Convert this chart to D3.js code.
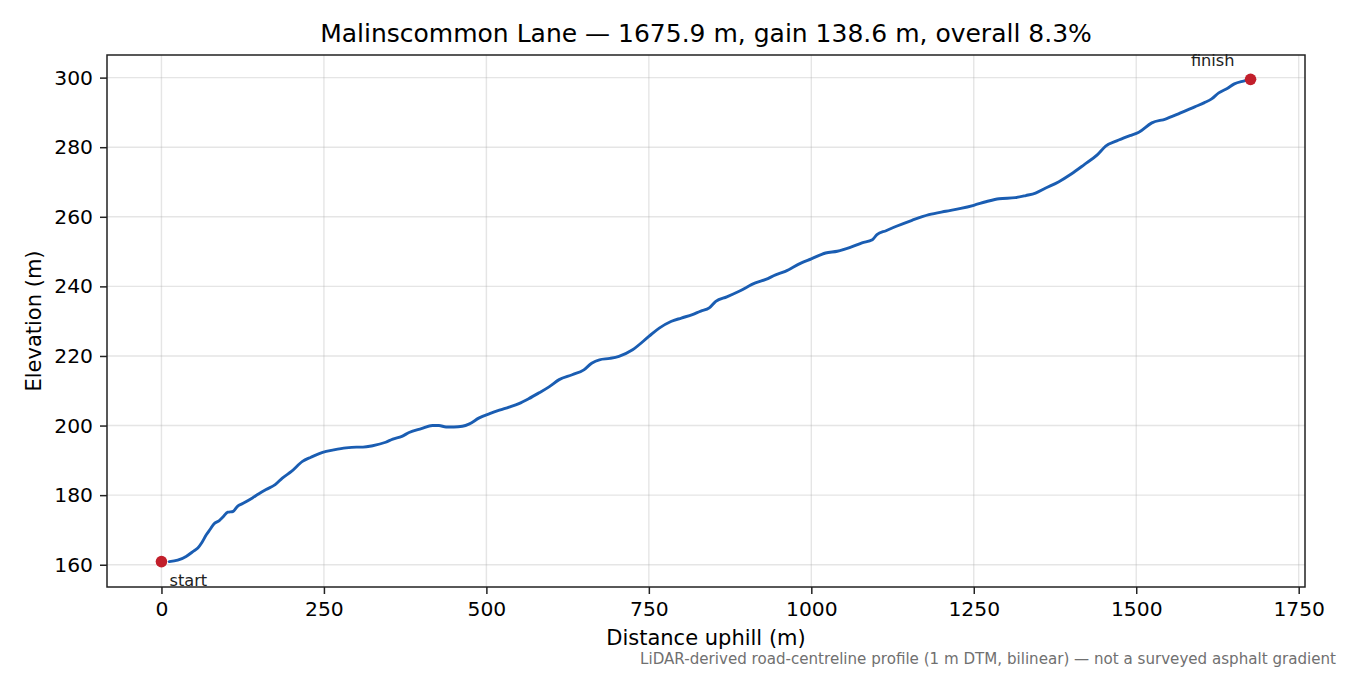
<!DOCTYPE html>
<html><head><meta charset="utf-8">
<script src="https://cdn.jsdelivr.net/npm/d3@7"></script>
<style>body{margin:0;background:#fff}svg{display:block;font-family:"DejaVu Sans",sans-serif}</style>
</head><body><svg id="c" width="1350" height="675"></svg>
<script>
const distance = [0,12,25,38,50,56,62,69,75,81,89,95,102,110,117,125,140,150,161,175,186,200,217,230,248,265,284,300,310,325,345,356,370,381,400,417,427,438,450,463,474,489,505,520,535,550,565,581,597,612,632,650,662,674,690,704,725,750,766,784,800,817,830,843,853,870,889,914,930,945,960,984,1000,1022,1040,1060,1078,1094,1101,1115,1130,1155,1181,1207,1230,1250,1270,1289,1314,1330,1345,1360,1381,1400,1420,1440,1453,1470,1490,1504,1524,1545,1565,1590,1605,1616,1627,1640,1651,1665,1675.9];
const elevation = [160.9,160.9,161.3,162.4,164.0,164.8,166.3,168.6,170.2,171.8,172.7,173.8,175.1,175.3,176.8,177.6,179.2,180.4,181.6,183.0,184.9,186.8,189.7,190.9,192.3,193.0,193.6,193.8,193.8,194.2,195.2,196.1,196.9,198.0,199.1,200.0,200.0,199.6,199.6,199.8,200.5,202.2,203.4,204.4,205.3,206.3,207.7,209.4,211.2,213.2,214.6,216.0,217.9,218.9,219.3,219.9,221.8,225.6,228.0,229.9,230.9,231.9,232.9,233.8,235.7,237.0,238.6,241.0,242.0,243.3,244.3,246.7,247.9,249.6,250.1,251.2,252.5,253.4,254.9,256.0,257.2,259.0,260.6,261.6,262.4,263.3,264.4,265.2,265.5,266.1,266.8,268.2,270.1,272.3,275.0,277.8,280.3,281.8,283.3,284.3,287.0,288.1,289.6,291.6,292.8,293.9,295.6,296.9,298.2,299.0,299.5];
const xTicks = [0,250,500,750,1000,1250,1500,1750];
const yTicks = [160,180,200,220,240,260,280,300];
const endpointLabels = ["start","finish"];
const titleText = "Malinscommon Lane \u2014 1675.9 m, gain 138.6 m, overall 8.3%";
const xLabel = "Distance uphill (m)";
const yLabel = "Elevation (m)";
const footnote = "LiDAR-derived road-centreline profile (1 m DTM, bilinear) \u2014 not a surveyed asphalt gradient";

const svg = d3.select("#c");
const L=107,R=1305,T=55,B=587;
const x = d3.scaleLinear().domain([-83.8,1759.7]).range([L,R]);
const y = d3.scaleLinear().domain([153.6,306.5]).range([B,T]);

// grid
const g = svg.append("g");
g.selectAll(".gx").data(xTicks).join("line")
  .attr("x1",d=>x(d)).attr("x2",d=>x(d)).attr("y1",T).attr("y2",B)
  .attr("stroke","#b0b0b0").attr("stroke-opacity",0.33).attr("stroke-width",1.4);
g.selectAll(".gy").data(yTicks).join("line")
  .attr("y1",d=>y(d)).attr("y2",d=>y(d)).attr("x1",L).attr("x2",R)
  .attr("stroke","#b0b0b0").attr("stroke-opacity",0.33).attr("stroke-width",1.4);

// axes
const xa = svg.append("g").attr("transform",`translate(0,${B})`)
  .call(d3.axisBottom(x).tickValues(xTicks).tickSize(7).tickPadding(7).tickFormat(d3.format("d")));
const ya = svg.append("g").attr("transform",`translate(${L},0)`)
  .call(d3.axisLeft(y).tickValues(yTicks).tickSize(7).tickPadding(7).tickFormat(d3.format("d")));
[xa,ya].forEach(a=>{a.select(".domain").remove();
  a.selectAll("text").attr("font-size",20.3).attr("fill","#000").attr("font-family","DejaVu Sans");
  a.selectAll("line").attr("stroke","#222").attr("stroke-width",1.5);});
xa.selectAll("text").attr("dy","0.72em");

// frame
svg.append("rect").attr("x",L).attr("y",T).attr("width",R-L).attr("height",B-T)
  .attr("fill","none").attr("stroke","#222").attr("stroke-width",1.5);

// line
svg.append("path").datum(elevation.slice(1))
  .attr("d",d3.line().curve(d3.curveMonotoneX).x((d,i)=>x(distance[i+1])).y(d=>y(d)))
  .attr("fill","none").attr("stroke","#1a5db2").attr("stroke-width",2.9)
  .attr("stroke-linejoin","round").attr("stroke-linecap","round");

// endpoints
const n = distance.length-1;
const ends = [[distance[0],elevation[0]],[distance[n],elevation[n]]];
svg.selectAll(".pt").data(ends).join("circle")
  .attr("cx",d=>x(d[0])).attr("cy",d=>y(d[1])).attr("r",5.8).attr("fill","#c21f2b");
svg.append("text").attr("x",x(ends[0][0])+8).attr("y",y(ends[0][1])+24)
  .attr("font-size",16.2).attr("fill","#222").text(endpointLabels[0]);
svg.append("text").attr("x",x(ends[1][0])-16).attr("y",y(ends[1][1])-13)
  .attr("font-size",16.2).attr("fill","#222").attr("text-anchor","end").text(endpointLabels[1]);

// titles
svg.append("text").attr("x",(L+R)/2).attr("y",42).attr("text-anchor","middle").attr("font-size",25).text(titleText);
svg.append("text").attr("x",(L+R)/2).attr("y",645).attr("text-anchor","middle").attr("font-size",21).text(xLabel);
svg.append("text").attr("transform",`translate(41,${(T+B)/2}) rotate(-90)`).attr("text-anchor","middle").attr("font-size",21).text(yLabel);
svg.append("text").attr("x",1336).attr("y",664).attr("text-anchor","end").attr("font-size",15.1).attr("fill","#707070").text(footnote);
</script></body></html>
